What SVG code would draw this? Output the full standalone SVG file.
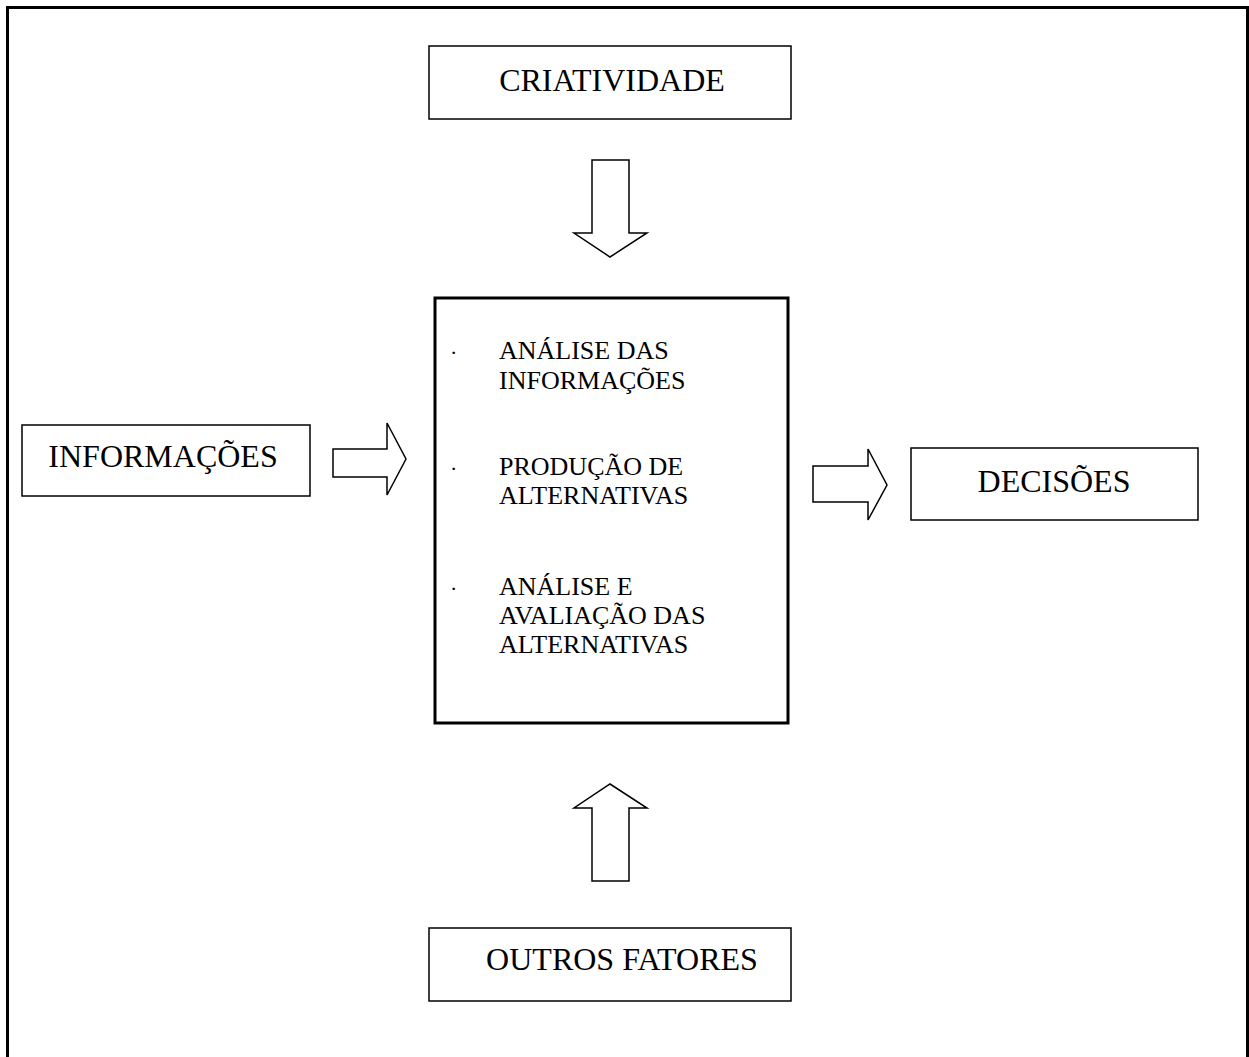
<svg xmlns="http://www.w3.org/2000/svg" width="1249" height="1057" viewBox="0 0 1249 1057">
  <style>
    .box { fill: #ffffff; stroke: #000000; stroke-width: 1.5; }
    .core { fill: #ffffff; stroke: #000000; stroke-width: 3; }
    .frame { fill: none; stroke: #000000; stroke-width: 3; }
    .arrow { fill: #ffffff; stroke: #000000; stroke-width: 1.5; stroke-linejoin: miter; }
    .label { font-family: "Liberation Serif", "Times New Roman", serif; font-size: 32px; fill: #000000; text-anchor: middle; }
    .item { font-family: "Liberation Serif", "Times New Roman", serif; font-size: 26px; fill: #000000; }
    .dot { font-family: "Liberation Serif", "Times New Roman", serif; font-size: 22px; fill: #000000; }
  </style>

  <rect width="1249" height="1057" fill="#ffffff"/>

  <!-- page frame, open at the bottom -->
  <path class="frame" d="M7.5 1057 V7.5 H1247.5 V1057"/>

  <g id="criatividade">
    <rect class="box" x="429" y="46" width="362" height="73"/>
    <text class="label" x="612" y="91">CRIATIVIDADE</text>
  </g>

  <g id="informacoes">
    <rect class="box" x="22" y="425" width="288" height="71"/>
    <text class="label" x="163" y="467">INFORMAÇÕES</text>
  </g>

  <g id="decisoes">
    <rect class="box" x="911" y="448" width="287" height="72"/>
    <text class="label" x="1054" y="492">DECISÕES</text>
  </g>

  <g id="outros-fatores">
    <rect class="box" x="429" y="928" width="362" height="73"/>
    <text class="label" x="622" y="970">OUTROS FATORES</text>
  </g>

  <g id="processo">
    <rect class="core" x="435" y="298" width="353" height="425"/>
    <text class="dot" x="450" y="360">·</text>
    <text class="item" x="499" y="359">ANÁLISE DAS</text>
    <text class="item" x="499" y="389">INFORMAÇÕES</text>
    <text class="dot" x="450" y="476">·</text>
    <text class="item" x="499" y="475">PRODUÇÃO DE</text>
    <text class="item" x="499" y="504">ALTERNATIVAS</text>
    <text class="dot" x="450" y="596">·</text>
    <text class="item" x="499" y="595">ANÁLISE E</text>
    <text class="item" x="499" y="624">AVALIAÇÃO DAS</text>
    <text class="item" x="499" y="653">ALTERNATIVAS</text>
  </g>

  <!-- block arrows -->
  <g id="connectors">
    <polygon class="arrow" points="592,160 629,160 629,233 647,233 610,257 574,233 592,233"/>
    <polygon class="arrow" points="610,784 647,808 629,808 629,881 592,881 592,808 574,808"/>
    <polygon class="arrow" points="333,449 387,449 387,423 406,459 387,495 387,477 333,477"/>
    <polygon class="arrow" points="813,466 868,466 868,449 887,485 868,520 868,502 813,502"/>
  </g>
</svg>
